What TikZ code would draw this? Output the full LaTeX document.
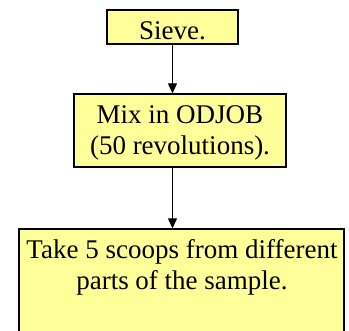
\documentclass[tikz,border=0pt]{standalone}
\usepackage{fontspec}
\setmainfont{Liberation Serif}
\usetikzlibrary{arrows.meta}
\definecolor{boxyellow}{RGB}{255,255,153}
\begin{document}
\begin{tikzpicture}[x=1pt,y=-1pt,
  stepbox/.style={draw=black, line width=1.3pt, fill=boxyellow, inner sep=0pt},
  steptext/.style={font=\fontsize{27}{31}\selectfont, inner sep=0pt, anchor=base, align=center},
  flow/.style={-{Triangle[length=10pt,width=9pt]}, line width=1.1pt}]
\useasboundingbox (0,0) rectangle (349,331);
\clip (0,0) rectangle (349,331);
% boxes
\node[stepbox, minimum width=131pt, minimum height=34pt] (sieve) at (172.5,27) {};
\node[stepbox, minimum width=212pt, minimum height=73pt] (mix) at (180,130.5) {};
\node[stepbox, minimum width=325pt, minimum height=140pt] (take) at (181.5,299) {};
% texts (base anchor sits on the last line)
\node[steptext] (sievetxt) at (172.5,40) {Sieve.};
\node[steptext] (mixtxt) at (180,155) {Mix in ODJOB\\(50 revolutions).};
\node[steptext] (taketxt) at (182,290) {Take 5 scoops from different\\parts of the sample.};
% connectors
\coordinate (m1) at (sieve.south |- mix.north);
\coordinate (m2) at (sieve.south |- mix.south);
\coordinate (t1) at (sieve.south |- take.north);
\draw[flow] (sieve.south) -- (m1);
\draw[flow] (m2) -- (t1);
\end{tikzpicture}
\end{document}
